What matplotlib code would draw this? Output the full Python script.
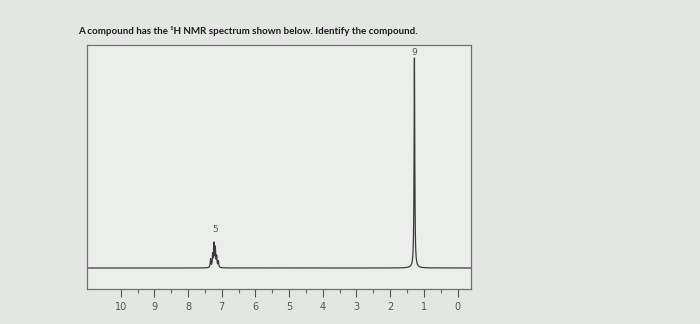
import numpy as np
import matplotlib.pyplot as plt

# peak list (shift in ppm, relative height)
shifts = [7.33, 7.27, 7.23, 7.19, 7.15, 7.10, 1.28]
heights = [0.04, 0.06, 0.11, 0.09, 0.05, 0.03, 1.0]
integrals = ['5', '9']
integral_pos = [7.2, 1.28]
integral_y = [0.16, 1.005]
xticks = [10, 9, 8, 7, 6, 5, 4, 3, 2, 1, 0]
title = 'A compound has the \u00b9H NMR spectrum shown below. Identify the compound.'

ppm = np.linspace(-0.4, 11.0, 6000)
width = 0.012
spec = np.zeros_like(ppm)
for s, h in zip(shifts, heights):
    spec += h * width**2 / ((ppm - s)**2 + width**2)

fig = plt.figure(figsize=(7, 3.24), dpi=100)
fig.patch.set_facecolor('#e3e6e3')
ax = fig.add_axes([0.1243, 0.108, 0.5486, 0.753])
ax.set_facecolor('#eceeec')

ax.plot(ppm, spec, color='#3a3a3a', lw=0.9)
for lbl, p, y in zip(integrals, integral_pos, integral_y):
    ax.text(p, y, lbl, ha='center', va='bottom', fontsize=6.5, color='#555555')

ax.set_xlim(11.0, -0.4)
ax.set_ylim(-0.1, 1.062)
ax.set_yticks([])
ax.set_xticks(xticks)
ax.set_xticks(np.arange(0.5, 10.5, 1.0), minor=True)
ax.tick_params(axis='x', which='major', direction='out', length=6, width=0.8,
               colors='#555555', labelsize=7, pad=3)
ax.tick_params(axis='x', which='minor', direction='out', length=3, width=0.8, color='#666666')
for sp in ax.spines.values():
    sp.set_color('#707070')
    sp.set_linewidth(0.9)

fig.text(0.111, 0.905, title, fontsize=7.1, fontweight='bold', color='#1e1e1e',
         family=['Lato', 'DejaVu Sans'], ha='left', va='center')

fig.savefig('out.png', dpi=100, facecolor=fig.get_facecolor())
